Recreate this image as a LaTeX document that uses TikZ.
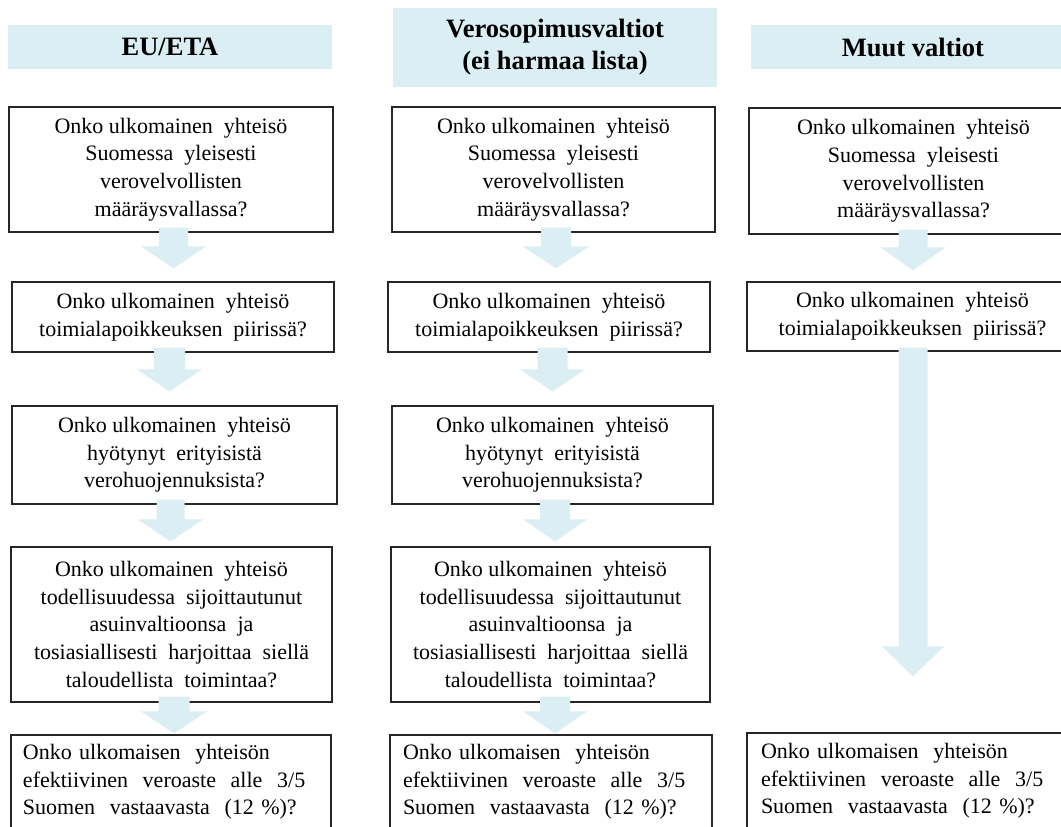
\documentclass[tikz,border=0pt]{standalone}
\usepackage{fontspec}
\setmainfont{Liberation Serif}
\usetikzlibrary{calc}
\definecolor{hdrblue}{HTML}{DAEEF3}
\definecolor{arrblue}{HTML}{DAEEF3}
\newcommand\bodyf{\fontsize{22}{27.7}\selectfont}
\newcommand\headf{\fontsize{26.5}{32}\selectfont\bfseries}
% #1 start, #2 tip, #3 half shaft, #4 half head, #5 head length
\newcommand\barrow[5]{%
  \fill[arrblue] let \p1=(#1), \p2=(#2) in
    (\x1-#3,\y1) -- (\x1+#3,\y1) -- (\x1+#3,\y2+#5) -- (\x1+#4,\y2+#5)
    -- (\x1,\y2) -- (\x1-#4,\y2+#5) -- (\x1-#3,\y2+#5) -- cycle;}
\begin{document}
\begin{tikzpicture}[x=1pt,y=1pt,
  hdr/.style={fill=hdrblue, draw=none, inner sep=0pt, align=center, font=\headf},
  qbox/.style={draw=black!85, line width=1.2pt, fill=white, inner sep=0pt, align=center, font=\bodyf},
  lbox/.style={qbox, align=left, inner ysep=0pt}]
\useasboundingbox (0,0) rectangle (1061,-827);
\fill[white] (0,0) rectangle (1061,-827);
\clip (0,0) rectangle (1061,-827);

% headers
\node[hdr, minimum width=324, minimum height=44] (h1) at (170,-47) {EU/ETA};
\node[hdr, minimum width=324, minimum height=79] (h2) at (555,-47.5) {Verosopimusvaltiot\\(ei harmaa lista)};
\node[hdr, minimum width=324, minimum height=44] (h3) at (913,-47) {Muut valtiot};

% column 1
\node[qbox, minimum width=324, minimum height=125] (b11) at (171,-169.5)
  {Onko ulkomainen~~yhteisö\\Suomessa~~yleisesti\\verovelvollisten\\määräysvallassa?};
\node[qbox, minimum width=322, minimum height=70] (b12) at (173,-317)
  {Onko ulkomainen~~yhteisö\\toimialapoikkeuksen~~piirissä?};
\node[qbox, minimum width=325, minimum height=98] (b13) at (174.5,-455)
  {Onko ulkomainen~~yhteisö\\hyötynyt~~erityisistä\\verohuojennuksista?};
\node[qbox, minimum width=321, minimum height=155] (b14) at (171.5,-624.5)
  {Onko ulkomainen~~yhteisö\\todellisuudessa~~sijoittautunut\\asuinvaltioonsa~~ja\\tosiasiallisesti~~harjoittaa~~siellä\\taloudellista~~toimintaa?};
\node[lbox, text width=296pt, inner xsep=12pt, minimum height=94] (b15) at (171,-782)
  {Onko ulkomaisen~~yhteisön\\efektiivinen~~veroaste~~alle~~3/5\\Suomen~~vastaavasta~~(12~\%)?};

% column 2
\node[qbox, minimum width=323, minimum height=125] (b21) at (553.5,-169.5)
  {Onko ulkomainen~~yhteisö\\Suomessa~~yleisesti\\verovelvollisten\\määräysvallassa?};
\node[qbox, minimum width=322, minimum height=70] (b22) at (549,-317)
  {Onko ulkomainen~~yhteisö\\toimialapoikkeuksen~~piirissä?};
\node[qbox, minimum width=321, minimum height=98] (b23) at (552.5,-455)
  {Onko ulkomainen~~yhteisö\\hyötynyt~~erityisistä\\verohuojennuksista?};
\node[qbox, minimum width=319, minimum height=155] (b24) at (550.5,-624.5)
  {Onko ulkomainen~~yhteisö\\todellisuudessa~~sijoittautunut\\asuinvaltioonsa~~ja\\tosiasiallisesti~~harjoittaa~~siellä\\taloudellista~~toimintaa?};
\node[lbox, text width=296pt, inner xsep=13pt, minimum height=94] (b25) at (551,-782)
  {Onko ulkomaisen~~yhteisön\\efektiivinen~~veroaste~~alle~~3/5\\Suomen~~vastaavasta~~(12~\%)?};

% column 3
\node[qbox, minimum width=329, minimum height=126] (b31) at (913.5,-171)
  {Onko ulkomainen~~yhteisö\\Suomessa~~yleisesti\\verovelvollisten\\määräysvallassa?};
\node[qbox, minimum width=331, minimum height=69] (b32) at (912.5,-316.5)
  {Onko ulkomainen~~yhteisö\\toimialapoikkeuksen~~piirissä?};
\node[lbox, text width=303pt, inner xsep=14pt, minimum height=96] (b35) at (912.5,-781)
  {Onko ulkomaisen~~yhteisön\\efektiivinen~~veroaste~~alle~~3/5\\Suomen~~vastaavasta~~(12~\%)?};

% block arrows, column 1
\barrow{[xshift=2.5pt,yshift=5pt]b11.south}{[yshift=13pt]b12.north}{14.5pt}{32.5pt}{22pt}
\barrow{[xshift=-3.5pt,yshift=5pt]b12.south}{[yshift=14pt]b13.north}{15.5pt}{32.5pt}{22pt}
\barrow{[xshift=-4pt,yshift=5pt]b13.south}{[yshift=5pt]b14.north}{14pt}{32.5pt}{22pt}
\barrow{[xshift=2.5pt,yshift=6pt]b14.south}{[yshift=1pt]b15.north}{15.5pt}{33pt}{22pt}
% column 2
\barrow{[xshift=2.5pt,yshift=5pt]b21.south}{[yshift=13pt]b22.north}{15pt}{33pt}{22pt}
\barrow{[xshift=3.5pt,yshift=5pt]b22.south}{[yshift=14pt]b23.north}{15pt}{32.5pt}{22pt}
\barrow{[xshift=2.5pt,yshift=5pt]b23.south}{[yshift=5pt]b24.north}{15pt}{32pt}{22pt}
\barrow{[xshift=4.5pt,yshift=6pt]b24.south}{[yshift=1pt]b25.north}{15pt}{32pt}{22pt}
% column 3
\barrow{[xshift=-0.5pt,yshift=5pt]b31.south}{[yshift=11pt]b32.north}{14.5pt}{32.5pt}{23pt}
\barrow{[xshift=0.5pt,yshift=4pt]b32.south}{[yshift=56pt]b35.north}{14.5pt}{31pt}{30pt}
\end{tikzpicture}
\end{document}
